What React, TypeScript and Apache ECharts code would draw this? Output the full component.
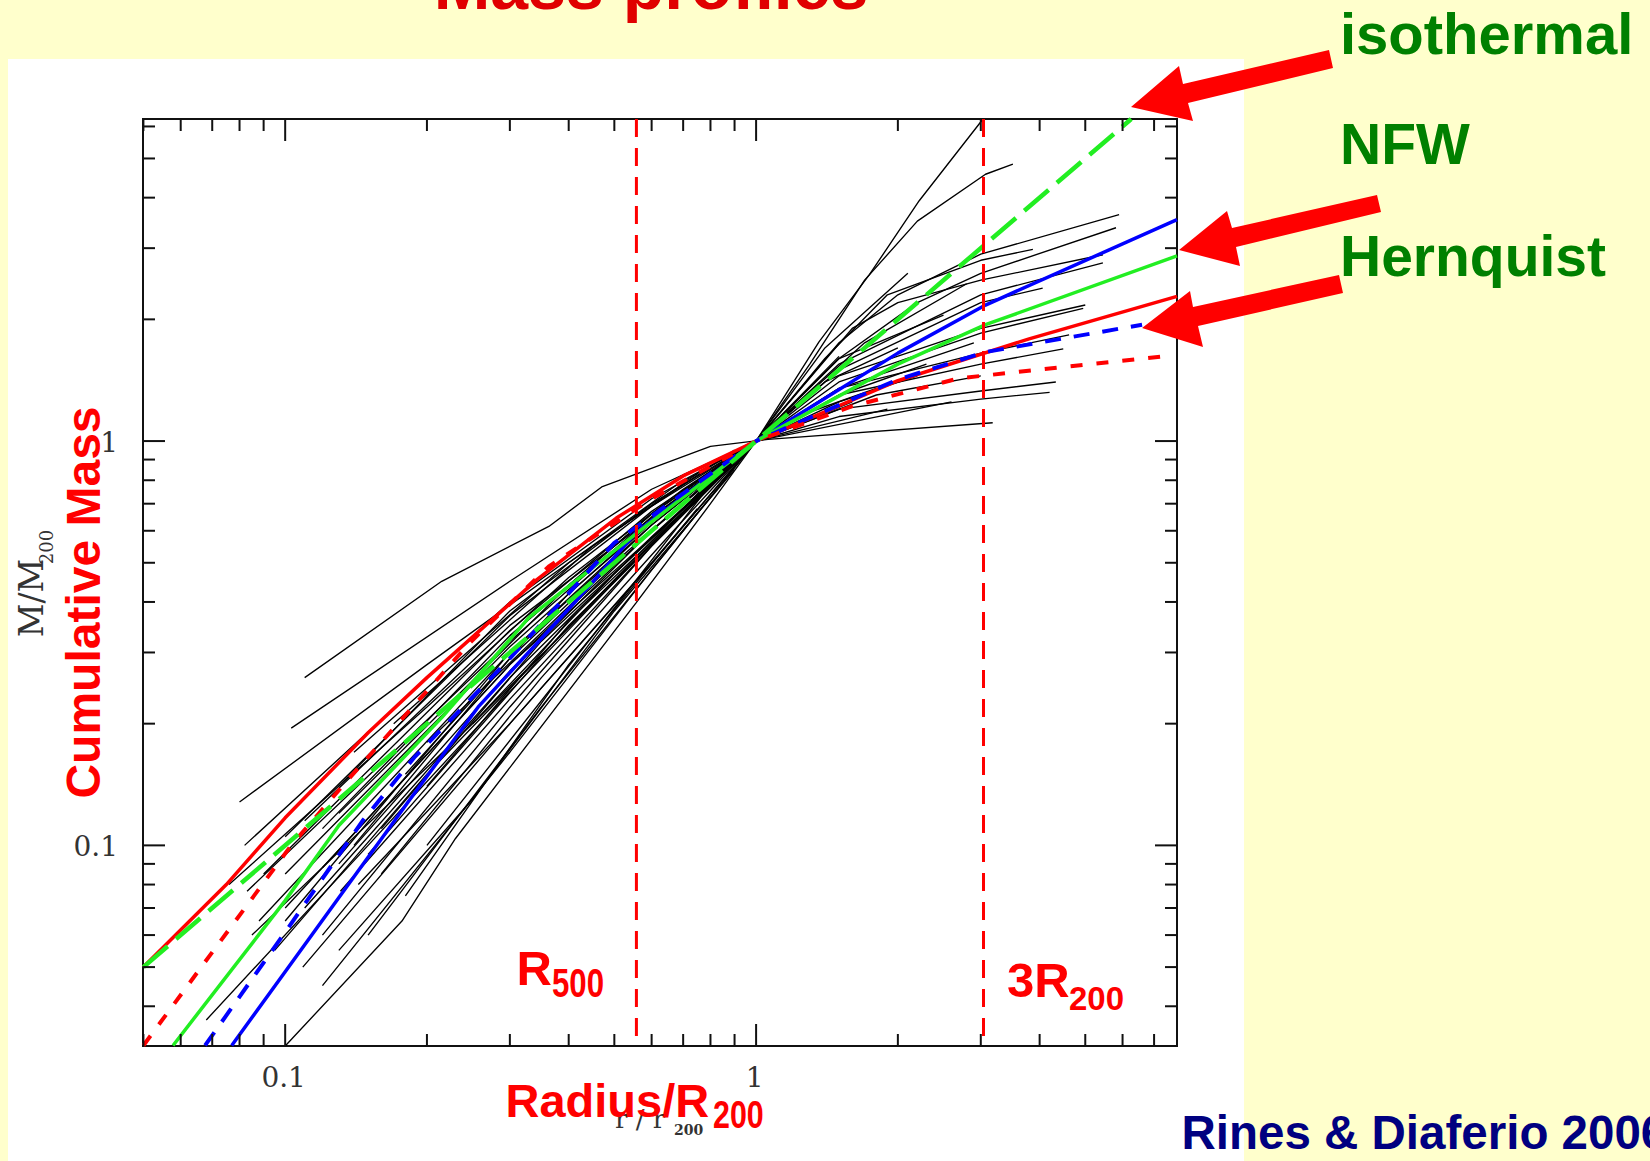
import { useEffect, useRef } from "react";
import * as echarts from "echarts";

// ---- axis ranges (log10 axes) ----
const X_MIN = 0.0499;
const X_MAX = 7.83;
const Y_MIN = 0.0319;
const Y_MAX = 6.26;

// ---- ticks ----
const xMajorTicks = [0.1, 1];
const xMajorLabels = ["0.1", "1"];
const xMinorTicks = [0.05, 0.06, 0.07, 0.08, 0.09, 0.2, 0.3, 0.4, 0.5, 0.6, 0.7, 0.8, 0.9, 2, 3, 4, 5, 6, 7];
const yMajorTicks = [0.1, 1];
const yMajorLabels = ["0.1", "1"];
const yMinorTicks = [0.04, 0.05, 0.06, 0.07, 0.08, 0.09, 0.2, 0.3, 0.4, 0.5, 0.6, 0.7, 0.8, 0.9, 2, 3, 4, 5, 6];

// ---- reference radii ----
const r500 = 0.557;
const r3x200 = 3.04;

// ---- model profiles [r/r200, M/M200] ----
const isothermalModel = [[0.05, 0.05], [6.26, 6.26]];
const redSolidModel = [[0.05, 0.05], [0.075, 0.08], [0.1, 0.117], [0.15, 0.19], [0.2, 0.26], [0.343, 0.455], [0.505, 0.645], [0.7, 0.82], [1, 1], [2, 1.41], [3.8, 1.79], [7.83, 2.28]];
const nfwSolidModel = [[0.077, 0.032], [0.1, 0.0487], [0.185, 0.131], [0.257, 0.22], [0.416, 0.404], [0.556, 0.594], [1, 1], [2, 1.65], [3.07, 2.17], [7.83, 3.53]];
const greenSolidModel = [[0.0578, 0.032], [0.1, 0.073], [0.13, 0.112], [0.215, 0.207], [0.33, 0.367], [0.535, 0.57], [1, 1], [2, 1.55], [3.07, 1.94], [7.83, 2.87]];
const blueDashedModel = [[0.0676, 0.032], [0.1, 0.061], [0.146, 0.115], [0.188, 0.165], [0.3, 0.29], [0.5, 0.56], [1, 1], [2, 1.42], [3.07, 1.66], [6.6, 1.94]];
const redDashedModel = [[0.05, 0.032], [0.103, 0.1], [0.135, 0.144], [0.246, 0.316], [0.363, 0.49], [0.6, 0.72], [1, 1], [1.6, 1.22], [2.7, 1.43], [7.67, 1.63]];

// ---- individual cluster profiles [r/r200, M/M200] ----
const clusterProfiles = [
  [[0.1, 0.0319], [0.177, 0.065], [0.23, 0.104], [0.556, 0.398], [0.8, 0.7], [1, 1], [1.36, 1.76], [1.74, 2.58], [2.22, 3.93], [3.03, 6.25]],
  [[0.143, 0.08], [0.3, 0.2], [0.6, 0.5], [1, 1], [1.3, 1.55], [1.7, 2.5], [2.2, 3.5], [3.07, 4.57], [3.51, 4.84]],
  [[0.109, 0.05], [0.3, 0.2], [0.62, 0.52], [1, 1], [1.5, 1.75], [2, 2.3], [3, 2.9], [5.9, 3.63]],
  [[0.131, 0.077], [0.3, 0.23], [0.6, 0.55], [1, 1], [1.4, 1.6], [1.9, 2.3], [3, 2.8], [3.87, 2.98]],
  [[0.068, 0.037], [0.15, 0.1], [0.3, 0.24], [0.6, 0.56], [1, 1], [1.5, 1.6], [2.2, 2.2], [3, 2.6], [5.81, 3.37]],
  [[0.2, 0.14], [0.4, 0.36], [0.7, 0.67], [1, 1], [1.6, 1.9], [2, 2.2], [3, 2.5], [5.45, 2.89]],
  [[0.16, 0.11], [0.35, 0.32], [0.7, 0.68], [1, 1], [1.5, 1.6], [2.5, 2.05]],
  [[0.11, 0.07], [0.3, 0.26], [0.6, 0.58], [1, 1], [1.5, 1.55], [3, 2.3], [5.45, 2.76]],
  [[0.13, 0.09], [0.3, 0.27], [0.6, 0.6], [1, 1], [1.5, 1.5], [3, 2.2], [4.06, 2.39]],
  [[0.25, 0.2], [0.5, 0.47], [1, 1], [1.4, 1.4], [2, 1.7]],
  [[0.12, 0.088], [0.3, 0.28], [0.6, 0.6], [1, 1], [1.5, 1.45], [3, 1.9], [5, 2.17]],
  [[0.14, 0.1], [0.3, 0.29], [0.6, 0.62], [1, 1], [1.5, 1.4], [3, 1.85], [4.95, 2.13]],
  [[0.1, 0.065], [0.3, 0.3], [0.6, 0.62], [1, 1], [1.5, 1.35], [2.9, 1.75]],
  [[0.088, 0.065], [0.3, 0.3], [0.6, 0.63], [1, 1], [1.5, 1.35], [3, 1.65], [4.62, 1.83]],
  [[0.18, 0.15], [0.4, 0.42], [0.7, 0.74], [1, 1], [1.5, 1.3], [2.3, 1.55]],
  [[0.1, 0.085], [0.3, 0.31], [0.6, 0.64], [1, 1], [1.5, 1.3], [3, 1.55], [4.49, 1.69]],
  [[0.083, 0.077], [0.3, 0.32], [0.6, 0.65], [1, 1], [1.8, 1.3], [3, 1.45]],
  [[0.12, 0.11], [0.3, 0.33], [0.6, 0.66], [1, 1], [1.5, 1.25], [2.2, 1.45]],
  [[0.09, 0.085], [0.3, 0.34], [0.6, 0.67], [1, 1], [1.3, 1.18], [1.8, 1.35]],
  [[0.076, 0.08], [0.2, 0.22], [0.4, 0.46], [0.7, 0.76], [1, 1], [1.5, 1.2], [3, 1.33], [4.33, 1.4]],
  [[0.1, 0.105], [0.3, 0.37], [0.6, 0.69], [1, 1], [1.5, 1.15], [3, 1.27], [4.2, 1.32]],
  [[0.13, 0.14], [0.3, 0.38], [0.6, 0.7], [1, 1], [1.6, 1.25]],
  [[0.082, 0.1], [0.3, 0.4], [0.6, 0.72], [1, 1], [1.4, 1.18]],
  [[0.103, 0.195], [0.3, 0.45], [0.6, 0.76], [1, 1], [2.6, 1.25]],
  [[0.08, 0.128], [0.2, 0.28], [0.4, 0.5], [0.7, 0.8], [1, 1], [1.9, 1.2]],
  [[0.11, 0.26], [0.215, 0.45], [0.363, 0.615], [0.47, 0.77], [0.8, 0.97], [1.06, 1.01], [3.18, 1.11]],
  [[0.12, 0.06], [0.3, 0.22], [0.6, 0.55], [0.9, 0.88]],
  [[0.15, 0.095], [0.4, 0.35], [0.85, 0.83]],
  [[0.1, 0.07], [0.3, 0.28], [0.8, 0.78]],
  [[0.2, 0.18], [0.5, 0.5], [0.95, 0.96]],
  [[0.13, 0.12], [0.4, 0.44], [0.9, 0.92]],
  [[0.3, 0.33], [0.6, 0.66], [0.95, 0.97]],
  [[0.17, 0.2], [0.45, 0.55], [0.9, 0.95]],
  [[0.11, 0.115], [0.3, 0.35], [0.7, 0.74]],
  [[0.085, 0.06], [0.25, 0.2], [0.55, 0.5], [0.9, 0.9]],
  [[0.14, 0.17], [0.4, 0.5], [0.75, 0.83]],
  [[0.12, 0.045], [0.3, 0.17], [0.6, 0.48], [1, 1], [1.4, 1.7], [2.1, 2.6]],
  [[0.15, 0.06], [0.35, 0.22], [0.7, 0.6], [1, 1], [1.5, 1.62]],
  [[0.18, 0.075], [0.4, 0.28], [0.75, 0.68]],
  [[0.2, 0.1], [0.45, 0.33], [0.8, 0.78]],
  [[0.13, 0.055], [0.25, 0.13], [0.5, 0.38], [0.9, 0.85]],
  [[0.16, 0.085], [0.35, 0.26], [0.65, 0.58], [1, 1], [1.7, 1.75], [2.8, 2.45]],
  [[0.095, 0.055], [0.2, 0.15], [0.45, 0.4], [0.85, 0.86]],
];

const SANS = '"Liberation Sans", Arial, "Noto Sans", sans-serif';
const SERIF = '"DejaVu Serif", "Liberation Serif", serif';

function txt(text: string, x: number, y: number, font: string, fill: string, align: string, extra: any = {}) {
  return {
    type: "text",
    x,
    y,
    z: 100,
    silent: true,
    ...extra,
    style: { text, font, fill, align, textAlign: align, verticalAlign: "middle", textVerticalAlign: "middle" },
  };
}

export default function App() {
  const ref = useRef<HTMLDivElement>(null);

  useEffect(() => {
    if (!ref.current) return;
    document.body.style.margin = "0";
    const chart = echarts.init(ref.current, undefined, { renderer: "svg" });

    const xTickData = [
      ...xMajorTicks.map((v, i) => [v, 1, 1, i]),
      ...xMinorTicks.map((v) => [v, 1, 0, -1]),
    ];
    const yTickData = [
      ...yMajorTicks.map((v, i) => [1, v, 1, i]),
      ...yMinorTicks.map((v) => [1, v, 0, -1]),
    ];
    const tickStyle = { stroke: "#111", lineWidth: 2 };

    const lineSeries = (data: number[][], color: string, width: number, type: any, z: number) => ({
      type: "line",
      data,
      showSymbol: false,
      symbol: "none",
      silent: true,
      z,
      lineStyle: { color, width, type, cap: "butt" },
      emphasis: { disabled: true },
    });

    const series: any[] = [];
    clusterProfiles.forEach((p) => series.push(lineSeries(p, "#000", 1.35, "solid", 2)));
    series.push(lineSeries(redSolidModel, "#ff0000", 3.5, "solid", 3));
    series.push(lineSeries(nfwSolidModel, "#0000ff", 3.5, "solid", 3));
    series.push(lineSeries(greenSolidModel, "#22ee22", 3.5, "solid", 3));
    series.push(lineSeries(blueDashedModel, "#0000ff", 4, [16, 13], 3));
    series.push(lineSeries(redDashedModel, "#ff0000", 4, [12, 14], 3));
    series.push(lineSeries(isothermalModel, "#22ee22", 4.5, [32, 11], 4));
    series.push(lineSeries([[r500, Y_MAX], [r500, Y_MIN]], "#ff0000", 3, [18, 11], 5));
    series.push(lineSeries([[r3x200, Y_MAX], [r3x200, Y_MIN]], "#ff0000", 3, [18, 11], 5));

    series.push({
      type: "custom",
      data: xTickData,
      silent: true,
      z: 10,
      clip: false,
      renderItem: (params: any, api: any) => {
        const v = api.value(0);
        const major = api.value(2) === 1;
        const idx = api.value(3);
        const cs = params.coordSys;
        const px = api.coord([v, 1])[0];
        const len = major ? 22 : 12;
        const bottom = cs.y + cs.height;
        const top = cs.y;
        const children: any[] = [
          { type: "line", shape: { x1: px, y1: bottom, x2: px, y2: bottom - len }, style: tickStyle },
          { type: "line", shape: { x1: px, y1: top, x2: px, y2: top + len }, style: tickStyle },
        ];
        if (major) {
          children.push({
            type: "text",
            x: px - 1.5,
            y: bottom + 31,
            style: {
              text: xMajorLabels[idx],
              font: `28px ${SERIF}`,
              fill: "#333",
              align: "center",
              textAlign: "center",
              verticalAlign: "middle",
              textVerticalAlign: "middle",
            },
          });
        }
        return { type: "group", children };
      },
    });

    series.push({
      type: "custom",
      data: yTickData,
      silent: true,
      z: 10,
      clip: false,
      renderItem: (params: any, api: any) => {
        const v = api.value(1);
        const major = api.value(2) === 1;
        const idx = api.value(3);
        const cs = params.coordSys;
        const py = api.coord([1, v])[1];
        const len = major ? 22 : 12;
        const left = cs.x;
        const right = cs.x + cs.width;
        const children: any[] = [
          { type: "line", shape: { x1: left, y1: py, x2: left + len, y2: py }, style: tickStyle },
          { type: "line", shape: { x1: right, y1: py, x2: right - len, y2: py }, style: tickStyle },
        ];
        if (major) {
          children.push({
            type: "text",
            x: left - 25,
            y: py + 1,
            style: {
              text: yMajorLabels[idx],
              font: `28px ${SERIF}`,
              fill: "#333",
              align: "right",
              textAlign: "right",
              verticalAlign: "middle",
              textVerticalAlign: "middle",
            },
          });
        }
        return { type: "group", children };
      },
    });

    const red = "#ff0000";
    const green = "#008000";
    const graphics: any[] = [
      { type: "rect", z: -10, silent: true, shape: { x: 8, y: 59, width: 1236, height: 1120 }, style: { fill: "#ffffff" } },
      txt("Mass profiles", 651, -15, `bold 68px ${SANS}`, "#e00000", "center"),
      txt("isothermal", 1340, 33, `bold 58px ${SANS}`, green, "left"),
      txt("NFW", 1340, 143.5, `bold 57px ${SANS}`, green, "left"),
      txt("Hernquist", 1340, 255.5, `bold 57px ${SANS}`, green, "left"),
      txt("Rines & Diaferio 2006", 1181.5, 1132, `bold 47.5px ${SANS}`, "#000080", "left"),
      // original axis labels
      txt("r / r", 615, 1119, `26px ${SERIF}`, "#333", "left"),
      txt("200", 674, 1130, `bold 14px ${SERIF}`, "#333", "left"),
      txt("M/M", 31, 598, `33px ${SERIF}`, "#333", "center", { rotation: Math.PI / 2 }),
      txt("200", 46, 547, `18px ${SERIF}`, "#333", "center", { rotation: Math.PI / 2 }),
      // overlay labels
      txt("Radius/R", 505.5, 1100.7, `bold 47px ${SANS}`, red, "left"),
      txt("200", 713, 1114.8, `bold 38px ${SANS}`, red, "left", { scaleX: 0.8 }),
      txt("Cumulative Mass", 83.4, 602.5, `bold 48px ${SANS}`, red, "center", { rotation: Math.PI / 2 }),
      txt("R", 516.5, 968, `bold 49px ${SANS}`, red, "left"),
      txt("500", 552, 984, `bold 40px ${SANS}`, red, "left", { scaleX: 0.78 }),
      txt("3R", 1007, 979.7, `bold 49px ${SANS}`, red, "left"),
      txt("200", 1069, 998.6, `bold 33px ${SANS}`, red, "left"),
      // arrows
      {
        type: "polygon", z: 90, silent: true,
        shape: { points: [[1131, 107], [1179, 66], [1183, 84], [1329, 50], [1333, 68], [1188, 103], [1193, 121]] },
        style: { fill: red },
      },
      {
        type: "polygon", z: 90, silent: true,
        shape: { points: [[1179, 250], [1227, 211], [1232, 228], [1377, 195], [1381, 212], [1236, 247], [1240, 266]] },
        style: { fill: red },
      },
      {
        type: "polygon", z: 90, silent: true,
        shape: { points: [[1142, 328], [1190, 291], [1193, 307], [1339, 275], [1343, 293], [1198, 326], [1203, 347]] },
        style: { fill: red },
      },
    ];

    const hiddenAxis = {
      axisLine: { show: false },
      axisTick: { show: false },
      axisLabel: { show: false },
      splitLine: { show: false },
    };

    chart.setOption({
      animation: false,
      backgroundColor: "#ffffcc",
      grid: {
        left: 143,
        top: 119,
        width: 1034,
        height: 927,
        show: true,
        borderColor: "#111",
        borderWidth: 2,
        backgroundColor: "transparent",
      },
      xAxis: { type: "log", logBase: 10, min: X_MIN, max: X_MAX, ...hiddenAxis },
      yAxis: { type: "log", logBase: 10, min: Y_MIN, max: Y_MAX, ...hiddenAxis },
      series,
      graphic: { elements: graphics },
    });

    return () => chart.dispose();
  }, []);

  return <div ref={ref} style={{ position: "absolute", left: 0, top: 0, width: 1650, height: 1161 }} />;
}
